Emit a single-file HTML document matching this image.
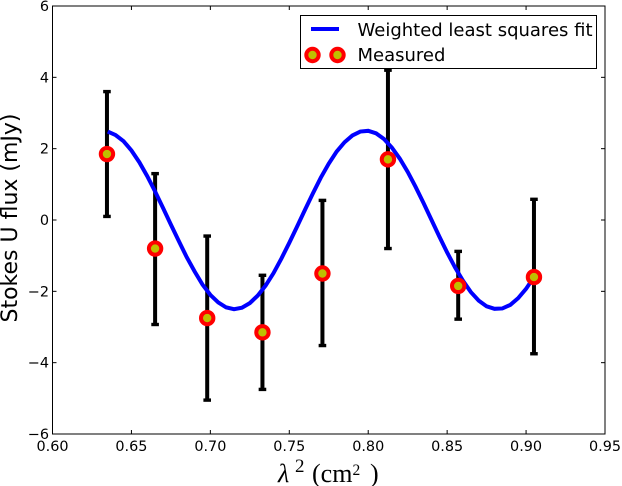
<!DOCTYPE html>
<html>
<head>
<meta charset="utf-8">
<style>
html,body{margin:0;padding:0;background:#fff;width:622px;height:486px;overflow:hidden}
svg{display:block}
text{font-family:"DejaVu Sans","Liberation Sans",sans-serif;fill:#000}
</style>
</head>
<body>
<svg id="chart" width="622" height="486" viewBox="0 0 622 486" xmlns="http://www.w3.org/2000/svg">
<rect x="52.5" y="6" width="552.5" height="428" fill="#fff"/>
<g id="errorbars"></g>
<path id="fit" fill="none" stroke="#0000ff" stroke-width="4"/>
<g id="points"></g>
<g id="ticks"></g>
<rect x="52.5" y="6" width="552.5" height="428" fill="none" stroke="#000" stroke-width="1"/>
<g>
<rect x="300.5" y="15.5" width="296" height="53" fill="#fff" stroke="#000" stroke-width="1"/>
<line x1="311" y1="29" x2="339" y2="29" stroke="#0000ff" stroke-width="4"/>
<circle cx="312.5" cy="55" r="6.2" fill="#bfbf00" stroke="#ff0000" stroke-width="4"/>
<circle cx="337.5" cy="55" r="6.2" fill="#bfbf00" stroke="#ff0000" stroke-width="4"/>
<text x="357.5" y="36" font-size="18">Weighted least squares fit</text>
<text x="357.5" y="61" font-size="18">Measured</text>
</g>
<text transform="translate(17,218) rotate(-90)" text-anchor="middle" font-size="22">Stokes U flux (mJy)</text>
<text y="482" font-size="26" style="font-family:'Liberation Serif','DejaVu Serif',serif"><tspan x="278" font-style="italic">λ</tspan><tspan x="295" y="472" font-size="19">2</tspan><tspan x="312" y="482">(cm</tspan><tspan x="352.5" y="475" font-size="15.5">2</tspan><tspan x="370" y="482">)</tspan></text>
</svg>
<script>
var pointX = [0.6345, 0.665, 0.698, 0.733, 0.771, 0.8125, 0.857, 0.905];
var pointY = [1.85, -0.8, -2.75, -3.15, -1.5, 1.7, -1.85, -1.6];
var errorHigh = [3.6, 1.3, -0.45, -1.55, 0.55, 4.2, -0.88, 0.58];
var errorLow = [0.1, -2.93, -5.05, -4.75, -3.52, -0.8, -2.78, -3.75];
var fitX = [0.635, 0.64, 0.645, 0.65, 0.655, 0.66, 0.665, 0.67, 0.675, 0.68, 0.685, 0.69, 0.695, 0.70, 0.705, 0.71, 0.715, 0.72, 0.725, 0.73, 0.735, 0.74, 0.745, 0.75, 0.755, 0.76, 0.765, 0.77, 0.775, 0.78, 0.785, 0.79, 0.795, 0.80, 0.805, 0.81, 0.815, 0.82, 0.825, 0.83, 0.835, 0.84, 0.845, 0.85, 0.855, 0.86, 0.865, 0.87, 0.875, 0.88, 0.885, 0.89, 0.895, 0.90, 0.905];
var fitY = [2.48, 2.38, 2.21, 1.95, 1.62, 1.23, 0.80, 0.34, -0.13, -0.59, -1.04, -1.44, -1.81, -2.10, -2.31, -2.45, -2.50, -2.46, -2.33, -2.12, -1.84, -1.49, -1.08, -0.64, -0.18, 0.29, 0.75, 1.19, 1.58, 1.92, 2.18, 2.37, 2.48, 2.50, 2.43, 2.27, 2.03, 1.72, 1.35, 0.93, 0.48, 0.01, -0.46, -0.91, -1.33, -1.70, -2.02, -2.26, -2.42, -2.49, -2.48, -2.38, -2.19, -1.93, -1.60];
var xTicks = ["0.60", "0.65", "0.70", "0.75", "0.80", "0.85", "0.90", "0.95"];
var yTicks = ["\u22126", "\u22124", "\u22122", "0", "2", "4", "6"];

var NS = 'http://www.w3.org/2000/svg';
var L = 52.5, R = 605, T = 6, B = 434;
function sx(v){ return L + (v - 0.60) / 0.35 * (R - L); }
function sy(v){ return B - (v + 6) / 12 * (B - T); }
function mk(tag, attrs, parent){
  var el = document.createElementNS(NS, tag);
  for (var k in attrs) el.setAttribute(k, attrs[k]);
  parent.appendChild(el);
  return el;
}
var ebG = document.getElementById('errorbars');
var ptG = document.getElementById('points');
var tkG = document.getElementById('ticks');

pointX.forEach(function(x, i){
  var px = sx(x);
  var stem = mk('line', {x1:px, x2:px, y1:sy(errorHigh[i]), y2:sy(errorLow[i]), stroke:'#000', 'stroke-width':4}, ebG);
  
  
  var capT = mk('line', {x1:px-3.8, x2:px+3.8, y1:sy(errorHigh[i]), y2:sy(errorHigh[i]), stroke:'#000', 'stroke-width':3.4}, ebG);
  
  
  var capB = mk('line', {x1:px-3.8, x2:px+3.8, y1:sy(errorLow[i]), y2:sy(errorLow[i]), stroke:'#000', 'stroke-width':3.4}, ebG);
  
  
  var dot = mk('circle', {cx:px, cy:sy(pointY[i]), r:6.2, fill:'#bfbf00', stroke:'#ff0000', 'stroke-width':4}, ptG);
  
  
});

var pts = fitX.map(function(x, i){ return [sx(x), sy(fitY[i])]; });
var d = 'M' + pts[0][0] + ' ' + pts[0][1];
for (var i = 1; i < pts.length; i++){
  d += ' L' + pts[i][0] + ' ' + pts[i][1];
}
document.getElementById('fit').setAttribute('d', d);

xTicks.forEach(function(t){
  var px = sx(parseFloat(t));
  var a = mk('line', {x1:px, x2:px, y1:B, y2:B-4, stroke:'#000', 'stroke-width':1}, tkG);
  
  
  var b = mk('line', {x1:px, x2:px, y1:T, y2:T+4, stroke:'#000', 'stroke-width':1}, tkG);
  
  
  var lab = mk('text', {x:px, y:451, 'text-anchor':'middle', 'font-size':14.4}, tkG);
  
  
  lab.textContent = t;
});
yTicks.forEach(function(t){
  var py = sy(parseFloat(t.replace('\u2212', '-')));
  var a = mk('line', {x1:L, x2:L+4, y1:py, y2:py, stroke:'#000', 'stroke-width':1}, tkG);
  
  
  var b = mk('line', {x1:R-4, x2:R, y1:py, y2:py, stroke:'#000', 'stroke-width':1}, tkG);
  
  
  var lab = mk('text', {x:49, y:py+5, 'text-anchor':'end', 'font-size':14.4}, tkG);
  
  
  lab.textContent = t;
});
</script>
</body>
</html>
